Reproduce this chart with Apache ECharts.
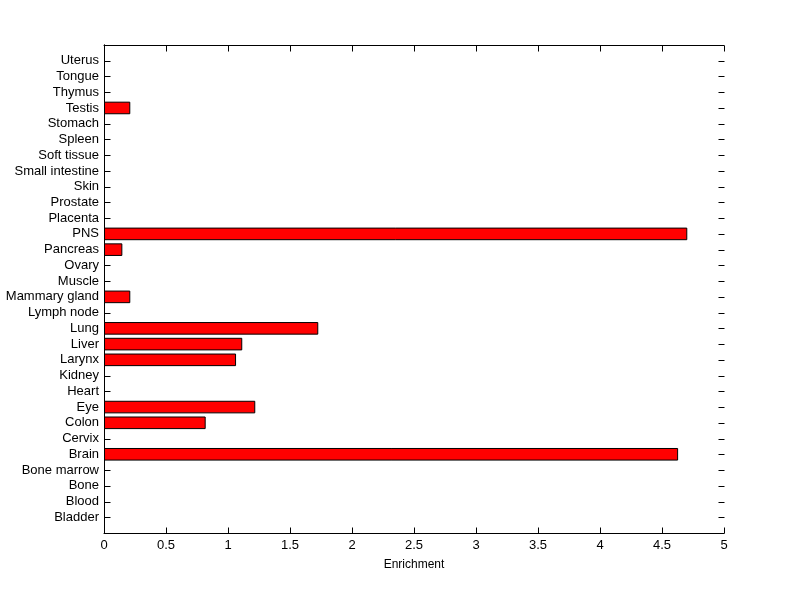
<!DOCTYPE html>
<html>
<head>
<meta charset="utf-8">
<script src="https://cdn.jsdelivr.net/npm/echarts@6/dist/echarts.min.js"></script>
<style>html,body{margin:0;padding:0;background:#fff;}#chart{width:800px;height:599px;}</style>
</head>
<body>
<div id="chart"></div>
<script>
var categories = ['Bladder','Blood','Bone','Bone marrow','Brain','Cervix','Colon','Eye','Heart','Kidney','Larynx','Liver','Lung','Lymph node','Mammary gland','Muscle','Ovary','Pancreas','PNS','Placenta','Prostate','Skin','Small intestine','Soft tissue','Spleen','Stomach','Testis','Thymus','Tongue','Uterus'];
var enrichment = [0,0,0,0,4.63,0,0.82,1.22,0,0,1.065,1.115,1.728,0,0.212,0,0,0.148,4.704,0,0,0,0,0,0,0,0.212,0,0,0];
var xTicks = [0,0.5,1,1.5,2,2.5,3,3.5,4,4.5,5];
var xAxisTitle = 'Enrichment';

var yCats = [''].concat(categories).concat(['']);
var barData = [null].concat(enrichment.map(function(v){
  return v === 0 ? {value:0, itemStyle:{borderWidth:0}} : v;
})).concat([null]);

var font = 'Liberation Sans, Arial, Helvetica, sans-serif';
function line(){ return {show:true, lineStyle:{color:'#000', width:1}}; }

var chart = echarts.init(document.getElementById('chart'), null, {renderer:'canvas'});
chart.setOption({
  animation: false,
  backgroundColor: '#ffffff',
  grid: {left:104, right:76, top:45, bottom:66},
  xAxis: [{
    type:'value', min:xTicks[0], max:xTicks[xTicks.length-1], interval:0.5,
    position:'bottom',
    name: xAxisTitle, nameLocation:'middle', nameGap:26,
    nameTextStyle:{color:'#000', fontFamily:font, fontSize:12},
    axisLine: line(), axisTick:{show:false},
    axisLabel:{color:'#000', fontFamily:font, fontSize:13, margin:6},
    splitLine:{show:false}
  },{
    type:'value', min:xTicks[0], max:xTicks[xTicks.length-1], interval:0.5,
    position:'top',
    axisLine: line(), axisTick:{show:false},
    axisLabel:{show:false},
    splitLine:{show:false}
  }],
  yAxis: [{
    type:'category', data: yCats, boundaryGap:false, position:'left',
    axisLine: line(), axisTick:{show:false},
    axisLabel:{color:'#000', fontFamily:font, fontSize:13, margin:5, interval:0},
    splitLine:{show:false}
  },{
    type:'category', data: yCats, boundaryGap:false, position:'right',
    axisLine: line(), axisTick:{show:false},
    axisLabel:{show:false},
    splitLine:{show:false}
  }],
  series: [{
    type:'bar', xAxisIndex:0, yAxisIndex:0, z:5,
    data: barData, barWidth:'80%',
    itemStyle:{color:'#ff0000', borderColor:'#000', borderWidth:1}
  }]
});

// inward tick marks on all four sides, placed through the axes' own scales
var TL = 6;
var xL = Math.round(chart.convertToPixel({xAxisIndex:0}, xTicks[0]));
var xR = Math.round(chart.convertToPixel({xAxisIndex:0}, xTicks[xTicks.length-1]));
var yB = Math.round(chart.convertToPixel({yAxisIndex:0}, 0));
var yT = Math.round(chart.convertToPixel({yAxisIndex:0}, yCats.length - 1));
var g = [];
function seg(x1,y1,x2,y2){
  g.push({type:'line', silent:true, z:1,
    shape:{x1:x1,y1:y1,x2:x2,y2:y2},
    style:{stroke:'#000', lineWidth:1}});
}
xTicks.forEach(function(v){
  var px = Math.round(chart.convertToPixel({xAxisIndex:0}, v)) + 0.5;
  seg(px, yB + 0.5, px, yB + 0.5 - TL);
  seg(px, yT + 0.5, px, yT + 0.5 + TL);
});
for (var i = 1; i < yCats.length - 1; i++){
  var py = Math.round(chart.convertToPixel({yAxisIndex:0}, i)) + 0.5;
  seg(xL + 0.5, py, xL + 0.5 + TL, py);
  seg(xR + 0.5, py, xR + 0.5 - TL, py);
}
chart.setOption({graphic: g});
</script>
</body>
</html>
